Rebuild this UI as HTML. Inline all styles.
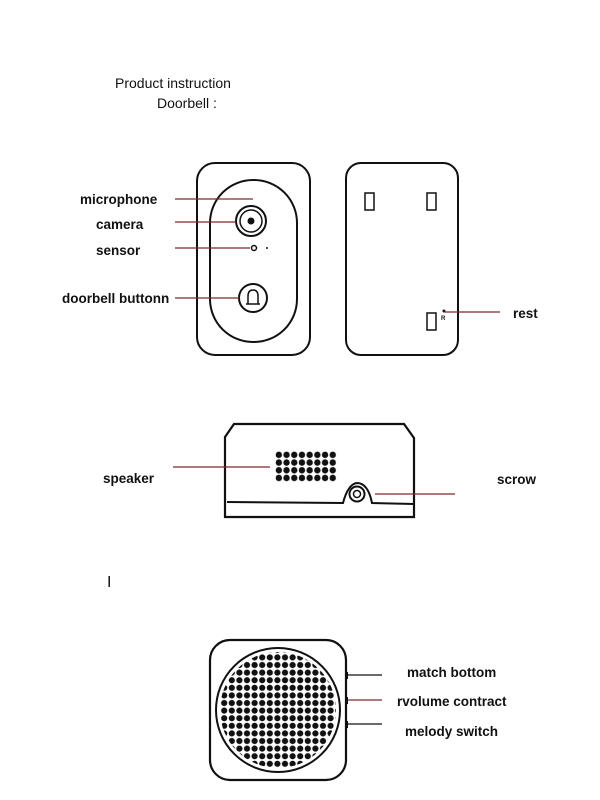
<!DOCTYPE html>
<html><head><meta charset="utf-8"><style>
html,body{margin:0;padding:0;background:#fff}
svg{display:block}
text{font-family:"Liberation Sans",sans-serif;fill:#111}
.b{font-weight:bold;font-size:13.5px}
</style></head><body>
<svg width="600" height="800" viewBox="0 0 600 800">
<defs>
<pattern id="dots" x="0" y="0" width="7.6" height="7.6" patternUnits="userSpaceOnUse"><circle cx="3.8" cy="3.8" r="3.1" fill="#111"/></pattern>
<pattern id="dots2" x="275" y="451" width="7.7" height="7.7" patternUnits="userSpaceOnUse"><circle cx="3.85" cy="3.85" r="3.2" fill="#111"/></pattern>
</defs>
<text x="115" y="88" font-size="14">Product instruction</text>
<text x="157" y="108" font-size="14">Doorbell :</text>

<!-- front -->
<rect x="197" y="163" width="113" height="192" rx="18" fill="none" stroke="#111" stroke-width="2"/>
<rect x="210" y="180" width="87" height="162" rx="43" fill="none" stroke="#111" stroke-width="2"/>
<circle cx="251" cy="221" r="15" fill="none" stroke="#111" stroke-width="2"/>
<circle cx="251" cy="221" r="11" fill="none" stroke="#111" stroke-width="1.5"/>
<circle cx="251" cy="221" r="3.5" fill="#111"/>
<circle cx="254" cy="248" r="2.5" fill="none" stroke="#111" stroke-width="1.5"/>
<circle cx="267" cy="248" r="1" fill="#111"/>
<circle cx="253" cy="298" r="14" fill="none" stroke="#111" stroke-width="2"/>
<path d="M248 304 L248 296 Q248 290 253 290 Q258 290 258 296 L258 304 Z M246 304 H260" fill="none" stroke="#111" stroke-width="1.5"/>
<g stroke="#7a2a2a" stroke-width="1.2">
<line x1="175" y1="199" x2="253" y2="199"/>
<line x1="175" y1="222" x2="236" y2="222"/>
<line x1="175" y1="248" x2="250" y2="248"/>
<line x1="175" y1="298" x2="239" y2="298"/>
</g>
<text class="b" x="80" y="204">microphone</text>
<text class="b" x="96" y="229">camera</text>
<text class="b" x="96" y="255">sensor</text>
<text class="b" x="62" y="303">doorbell buttonn</text>

<!-- back -->
<rect x="346" y="163" width="112" height="192" rx="15" fill="none" stroke="#111" stroke-width="2"/>
<rect x="365" y="193" width="9" height="17" fill="none" stroke="#111" stroke-width="1.5"/>
<rect x="427" y="193" width="9" height="17" fill="none" stroke="#111" stroke-width="1.5"/>
<rect x="427" y="313" width="9" height="17" fill="none" stroke="#111" stroke-width="1.5"/>
<circle cx="444" cy="311" r="1.5" fill="#111"/>
<text x="441" y="320" font-size="6" font-weight="bold">R</text>
<line x1="444" y1="312" x2="500" y2="312" stroke="#7a2a2a" stroke-width="1.2"/>
<text class="b" x="513" y="318">rest</text>

<!-- speaker side -->
<path d="M234 424 L404 424 L414 438 L414 517 L225 517 L225 437 Z" fill="none" stroke="#111" stroke-width="2.2"/>
<path d="M227 502 L343 503 Q348 484 357 483 Q368 483 372 503 L414 504" fill="none" stroke="#111" stroke-width="2"/>
<circle cx="357" cy="494" r="7.5" fill="none" stroke="#111" stroke-width="2"/>
<circle cx="357" cy="494" r="3.5" fill="none" stroke="#111" stroke-width="1.5"/>
<rect x="275" y="451" width="61.6" height="30.8" fill="url(#dots2)"/>
<line x1="173" y1="467" x2="270" y2="467" stroke="#7a2a2a" stroke-width="1.2"/>
<line x1="375" y1="494" x2="455" y2="494" stroke="#7a2a2a" stroke-width="1.2"/>
<text class="b" x="103" y="483">speaker</text>
<text class="b" x="497" y="484">scrow</text>

<text x="107" y="587" font-size="16">I</text>

<!-- bottom -->
<rect x="210" y="640" width="136" height="140" rx="20" fill="none" stroke="#111" stroke-width="2.2"/>
<circle cx="278" cy="710" r="62" fill="none" stroke="#111" stroke-width="2"/>
<circle cx="278" cy="710" r="58" fill="url(#dots)"/>
<rect x="345" y="672" width="3" height="7" fill="#111"/>
<rect x="345" y="697" width="3" height="7" fill="#111"/>
<rect x="345" y="721" width="3" height="7" fill="#111"/>
<g stroke="#111" stroke-width="1.2">
<line x1="348" y1="675" x2="382" y2="675"/>
<line x1="348" y1="700" x2="382" y2="700" stroke="#7a2a2a"/>
<line x1="348" y1="724" x2="382" y2="724"/>
</g>
<text class="b" x="407" y="677">match bottom</text>
<text class="b" x="397" y="706">rvolume contract</text>
<text class="b" x="405" y="736">melody switch</text>
</svg>
</body></html>
